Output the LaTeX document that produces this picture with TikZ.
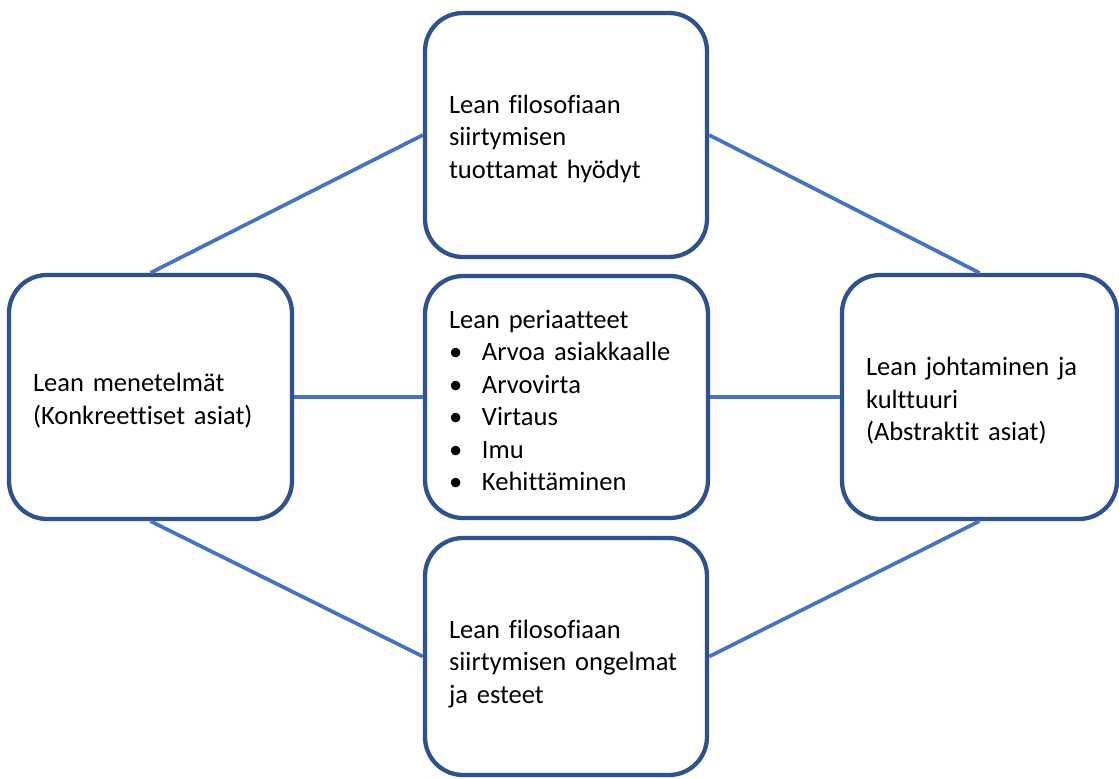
\documentclass[tikz,border=0pt]{standalone}
\usepackage{fontspec}
\setmainfont{Carlito}[Ligatures={NoCommon}]
\definecolor{boxline}{HTML}{2F528F}
\definecolor{linkline}{HTML}{4472C4}
\tikzset{
  topic/.style={draw=boxline, line width=4.3pt, fill=white, rounded corners=38pt,
    inner xsep=24pt, inner ysep=0pt, align=left, anchor=center,
    font=\fontsize{26.5pt}{32.5pt}\selectfont},
  link/.style={draw=linkline, line width=3.7pt}
}
% bullet item with a fixed indent
\newcommand{\bitem}[1]{\makebox[33pt][l]{•}#1}
% extra room above the first line to lower the text block
\newcommand{\topgap}[1]{\rule{0pt}{#1}}
\begin{document}
\begin{tikzpicture}[x=1pt,y=-1pt]
\useasboundingbox (0,0) rectangle (1119,779);

\node[topic, minimum width=282pt, minimum height=244pt, text width=234pt] (hyodyt) at (566,135)
  {\topgap{26pt}Lean filosofiaan\\siirtymisen\\tuottamat hyödyt};
\node[topic, minimum width=283pt, minimum height=244pt, text width=235pt] (menetelmat) at (150.5,397)
  {\topgap{26pt}Lean menetelmät\\(Konkreettiset asiat)};
\node[topic, minimum width=283pt, minimum height=242pt, text width=235pt] (periaatteet) at (566.5,397)
  {\topgap{25pt}Lean periaatteet\\\bitem{Arvoa asiakkaalle}\\\bitem{Arvovirta}\\\bitem{Virtaus}\\\bitem{Imu}\\\bitem{Kehittäminen}};
\node[topic, minimum width=275pt, minimum height=244pt, text width=227pt] (johtaminen) at (979.5,397)
  {\topgap{26pt}Lean johtaminen ja\\kulttuuri\\(Abstraktit asiat)};
\node[topic, minimum width=282pt, minimum height=237pt, text width=234pt] (ongelmat) at (566,656.5)
  {\topgap{33pt}Lean filosofiaan\\siirtymisen ongelmat\\ja esteet};

\draw[link] (menetelmat.north) -- (hyodyt.west);
\draw[link] (hyodyt.east) -- (johtaminen.north);
\draw[link] (menetelmat.east) -- (periaatteet.west);
\draw[link] (periaatteet.east) -- (johtaminen.west);
\draw[link] (menetelmat.south) -- (ongelmat.west);
\draw[link] (ongelmat.east) -- (johtaminen.south);
\end{tikzpicture}
\end{document}
